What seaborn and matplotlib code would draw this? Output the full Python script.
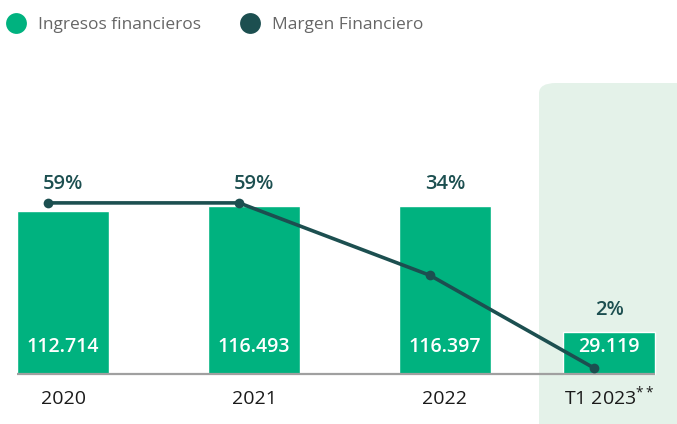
import matplotlib
matplotlib.use("Agg")
import matplotlib.pyplot as plt
from matplotlib.patches import FancyBboxPatch
from matplotlib.lines import Line2D
import seaborn as sns
import pandas as pd
import numpy as np

# ---- data ----
categories = ["2020", "2021", "2022", "T1 2023**"]
ingresos = [112714, 116493, 116397, 29119]
margen_pct = [59, 59, 34, 2]

# ---- layout (not data) ----
xpos = np.array([0.0, 1.0, 2.0, 2.86])
line_shift = -0.078
GREEN = "#00b27f"
DARK = "#1c4f50"
W, H = 677, 424

sns.set_theme(style="white")
plt.rcParams["font.family"] = ["Open Sans", "DejaVu Sans"]
plt.rcParams["mathtext.fontset"] = "custom"
plt.rcParams["mathtext.rm"] = "Open Sans"
plt.rcParams["mathtext.it"] = "Open Sans"

fig = plt.figure(figsize=(W / 100, H / 100), dpi=100)
fig.patch.set_facecolor("white")

# shaded highlight panel
panel = FancyBboxPatch((539 / W, -0.1), (200) / W, (H - 83) / H + 0.1,
                       boxstyle="round,pad=0,rounding_size=0.025",
                       transform=fig.transFigure, facecolor="#e4f2e9",
                       edgecolor="none", zorder=-5)
fig.patches.append(panel)

ax = fig.add_axes([0, 0, 1, 1])
ax.patch.set_alpha(0)

df = pd.DataFrame({"x": xpos, "ingresos": ingresos, "cat": categories})
sns.barplot(data=df, x="x", y="ingresos", native_scale=True, color=GREEN,
            width=0.558, saturation=1, ax=ax, zorder=2)

px_per_unit = 191.0
ax.set_xlim(-63 / px_per_unit, (W - 63) / px_per_unit)
yscale = 1.446 / 1000.0  # px per value unit
ax.set_ylim(-(H - 374) / yscale, 374 / yscale)

# baseline
ax.plot([-46 / px_per_unit, (655 - 63) / px_per_unit], [0, 0],
        color="#a0a0a0", lw=1.6, zorder=3, solid_capstyle="butt")

# value labels inside bars
for x, v in zip(xpos, ingresos):
    s = f"{v:,}".replace(",", ".")
    ax.text(x, 27 / yscale, s, ha="center", va="center", color="white",
            fontsize=14, fontweight="semibold", zorder=5)

# percent labels above bars (full years share one height)
label_base = [max(ingresos[:3])] * 3 + [ingresos[3]]
for x, b, p in zip(xpos, label_base, margen_pct):
    ax.text(x, b + 22 / yscale, f"{p}%", ha="center", va="center",
            color=DARK, fontsize=14.5, fontweight="semibold", zorder=5)

# category labels (trailing ** shown as superscript)
for x, c in zip(xpos, categories):
    if c.endswith("**"):
        disp = c[:-2] + r"$^{**}$"
    else:
        disp = c
    ax.text(x, -30.5 / yscale, disp, ha="center", va="baseline",
            color="#1a1a1a", fontsize=14, zorder=5)

ax.set_axis_off()

# line on twin axis
ax2 = ax.twinx()
ax2.set_axis_off()
pscale = 2.9
ax2.set_ylim(-(H - 374) / pscale, 374 / pscale)
dfl = pd.DataFrame({"x": xpos + line_shift, "m": margen_pct})
sns.lineplot(data=dfl, x="x", y="m", ax=ax2, color=DARK, lw=2.6,
             marker="o", markersize=7, markeredgewidth=0, zorder=6)
ax2.set_xlim(ax.get_xlim())

# legend
handles = [Line2D([], [], marker="o", ls="none", markersize=15,
                  markerfacecolor=GREEN, markeredgewidth=0),
           Line2D([], [], marker="o", ls="none", markersize=15,
                  markerfacecolor=DARK, markeredgewidth=0)]
fig.legend(handles, ["Ingresos financieros", "Margen Financiero"],
           loc="upper left", bbox_to_anchor=(-0.013, 0.998), ncol=2,
           frameon=False, fontsize=12.5, labelcolor="#666666",
           handletextpad=0.8, columnspacing=2.3, handlelength=1.0)

fig.savefig("out.png", dpi=100)
